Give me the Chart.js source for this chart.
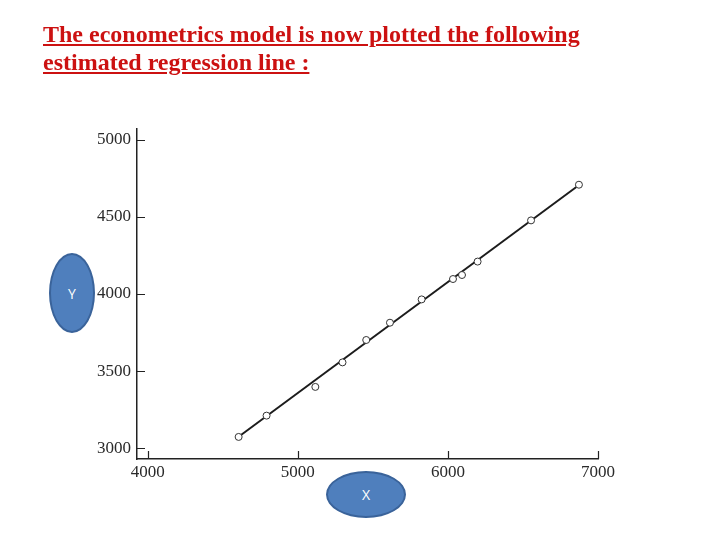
<!DOCTYPE html>
<html>
<head>
<meta charset="utf-8">
<script src="https://cdn.jsdelivr.net/npm/chart.js@4"></script>
<style>
    body { margin: 0; background: #fff; }
    #wrap { position: relative; width: 720px; height: 540px; overflow: hidden; }
    #chart { position: absolute; left: 0; top: 0; }
    .title {
        position: absolute; left: 43px; top: 20px;
        font-family: "Liberation Serif", "Times New Roman", serif;
        font-weight: bold; font-size: 24px; line-height: 28px;
        color: #cc1111; text-decoration: underline;
    }
    .bubble {
        position: absolute; box-sizing: border-box;
        border: 2px solid #3a639a; background: #4f7fbd; border-radius: 50%;
        color: #fff; font-family: "Open Sans", "Liberation Sans", sans-serif; font-size: 14px;
        display: flex; align-items: center; justify-content: center;
    }
</style>
</head>
<body>
<div id="wrap">
    <canvas id="chart" width="720" height="540"></canvas>
    <div class="title">The econometrics model is now plotted the following<br>estimated regression line :</div>
    <div class="bubble" style="left:49px; top:253px; width:46px; height:80px;">Y</div>
    <div class="bubble" style="left:326px; top:471px; width:80px; height:47px;">X</div>
</div>
<script>
// observed points (X, Y)
const xValues = [4606, 4792, 5117, 5298, 5456, 5614, 5825, 6034, 6094, 6198, 6554, 6873];
const yValues = [3074, 3212, 3398, 3557, 3702, 3814, 3965, 4097, 4123, 4210, 4477, 4708];

// fitted line end points
const lineX = [4615, 6865];
const lineY = [3082, 4700];

const xTicks = [4000, 5000, 6000, 7000];
const yTicks = [3000, 3500, 4000, 4500, 5000];

// short inward tick marks like the original figure
const innerTicks = {
    id: 'innerTicks',
    afterDraw(chart) {
        const ctx = chart.ctx;
        const area = chart.chartArea;
        const xs = chart.scales.x;
        const ys = chart.scales.y;
        ctx.save();
        ctx.strokeStyle = '#222';
        ctx.lineWidth = 1.2;
        ctx.beginPath();
        yTicks.forEach(v => {
            const py = Math.round(ys.getPixelForValue(v)) + 0.5;
            ctx.moveTo(area.left, py);
            ctx.lineTo(area.left + 8, py);
        });
        xTicks.forEach(v => {
            const px = Math.round(xs.getPixelForValue(v)) + 0.5;
            ctx.moveTo(px, area.bottom);
            ctx.lineTo(px, area.bottom - 8);
        });
        ctx.stroke();
        ctx.restore();
    }
};

const tickFont = { family: '"Liberation Serif", "Times New Roman", serif', size: 17 };

new Chart(document.getElementById('chart'), {
    type: 'scatter',
    data: {
        datasets: [
            {
                label: 'observed',
                data: xValues.map((x, i) => ({ x: x, y: yValues[i] })),
                pointRadius: 3.5,
                pointBackgroundColor: '#fff',
                pointBorderColor: '#333',
                pointBorderWidth: 1
            },
            {
                label: 'fitted',
                data: lineX.map((x, i) => ({ x: x, y: lineY[i] })),
                showLine: true,
                pointRadius: 0,
                borderColor: '#1c1c1c',
                borderWidth: 2
            }
        ]
    },
    options: {
        responsive: false,
        animation: false,
        layout: { padding: { left: 0, top: 129, right: 122, bottom: 0 } },
        plugins: { legend: { display: false }, tooltip: { enabled: false } },
        scales: {
            x: {
                type: 'linear',
                min: 3929,
                max: 7000,
                afterBuildTicks: scale => { scale.ticks = xTicks.map(v => ({ value: v })); },
                afterFit: scale => { scale.height = 81; },
                grid: { drawOnChartArea: false, drawTicks: false },
                border: { display: true, color: '#222', width: 1.5 },
                ticks: { font: tickFont, color: '#2a2a2a', padding: 3, maxRotation: 0, callback: v => String(v) }
            },
            y: {
                type: 'linear',
                min: 2931,
                max: 5069,
                afterBuildTicks: scale => { scale.ticks = yTicks.map(v => ({ value: v })); },
                afterFit: scale => { scale.width = 137; },
                grid: { drawOnChartArea: false, drawTicks: false },
                border: { display: true, color: '#222', width: 1.5 },
                ticks: { font: tickFont, color: '#2a2a2a', padding: 6, callback: v => String(v) }
            }
        }
    },
    plugins: [innerTicks]
});
</script>
</body>
</html>
